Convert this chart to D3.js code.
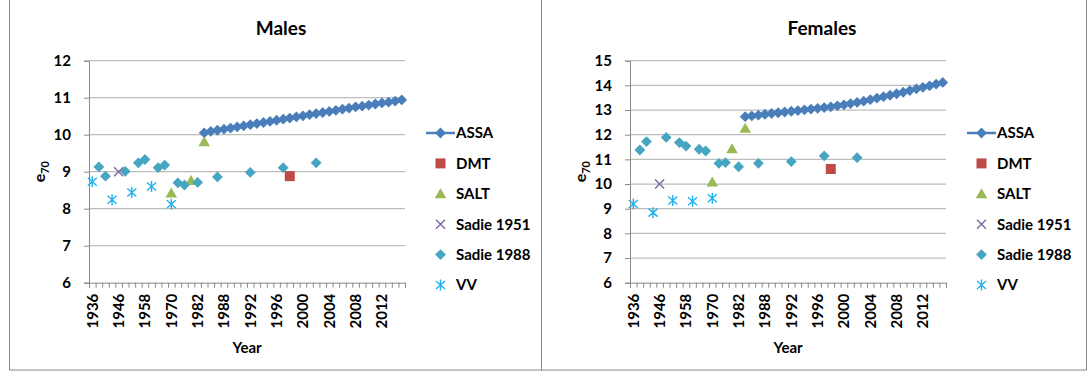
<!DOCTYPE html>
<html>
<head>
<meta charset="utf-8">
<script src="https://cdn.jsdelivr.net/npm/d3@7"></script>
<style>
  body { margin: 0; background: #fff; }
  svg { display: block; font-family: Lato, "Open Sans", "Liberation Sans", sans-serif; font-weight: bold; }
</style>
</head>
<body>
<svg id="chart" width="1091" height="374"></svg>
<script>
// Category axis: one slot per observation year
const categories = [1936, 1938, 1941, 1944, 1946, 1948, 1951, 1954, 1958, 1960,
  1963, 1966, 1970, 1973, 1976, 1979, 1982, 1985, 1986, 1987,
  1988, 1989, 1990, 1991, 1992, 1993, 1994, 1995, 1996, 1997,
  1998, 1999, 2000, 2001, 2002, 2003, 2004, 2005, 2006, 2007,
  2008, 2009, 2010, 2011, 2012, 2013, 2014, 2015];
const tickLabels = [1936, 1946, 1958, 1970, 1982, 1988, 1992, 1996, 2000, 2004, 2008, 2012];
const assaYears = [1985, 1986, 1987, 1988, 1989, 1990, 1991, 1992, 1993, 1994,
  1995, 1996, 1997, 1998, 1999, 2000, 2001, 2002, 2003, 2004,
  2005, 2006, 2007, 2008, 2009, 2010, 2011, 2012, 2013, 2014, 2015];
const seriesNames = ["ASSA", "DMT", "SALT", "Sadie 1951", "Sadie 1988", "VV"];

// Males: life expectancy at age 70
const maleASSA = [10.05, 10.09, 10.12, 10.15, 10.18, 10.21, 10.24, 10.27, 10.30, 10.33,
  10.36, 10.39, 10.42, 10.45, 10.48, 10.51, 10.54, 10.57, 10.60, 10.63,
  10.66, 10.69, 10.72, 10.75, 10.77, 10.80, 10.83, 10.86, 10.88, 10.91, 10.94];
const maleDMT = [[1998, 8.88]];
const maleSALT = [[1970, 8.42], [1979, 8.76], [1985, 9.81]];
const maleSadie1951 = [[1946, 9.00]];
const maleSadie1988 = [[1938, 9.13], [1941, 8.88], [1948, 9.01], [1954, 9.24], [1958, 9.33],
  [1963, 9.11], [1966, 9.18], [1973, 8.70], [1976, 8.64], [1982, 8.71],
  [1987, 8.86], [1992, 8.98], [1997, 9.11], [2002, 9.24]];
const maleVV = [[1936, 8.73], [1944, 8.24], [1951, 8.44], [1960, 8.60], [1970, 8.12]];

// Females: life expectancy at age 70
const femaleASSA = [12.73, 12.76, 12.79, 12.83, 12.86, 12.89, 12.92, 12.95, 12.98, 13.01,
  13.04, 13.07, 13.10, 13.13, 13.17, 13.21, 13.26, 13.31, 13.36, 13.42,
  13.48, 13.54, 13.60, 13.66, 13.72, 13.79, 13.86, 13.92, 13.98, 14.05, 14.12];
const femaleDMT = [[1998, 10.61]];
const femaleSALT = [[1970, 10.08], [1979, 11.43], [1985, 12.26]];
const femaleSadie1951 = [[1946, 10.00]];
const femaleSadie1988 = [[1938, 11.38], [1941, 11.72], [1948, 11.89], [1954, 11.68], [1958, 11.54],
  [1963, 11.41], [1966, 11.34], [1973, 10.84], [1976, 10.87], [1982, 10.70],
  [1987, 10.84], [1992, 10.91], [1997, 11.14], [2002, 11.07]];
const femaleVV = [[1936, 9.19], [1944, 8.84], [1951, 9.33], [1960, 9.30], [1970, 9.42]];

const maleTicks = [6, 7, 8, 9, 10, 11, 12];
const femaleTicks = [6, 7, 8, 9, 10, 11, 12, 13, 14, 15];

// Marker styles per series
const styles = {
  "ASSA":       { shape: "diamond",  fill: "#4A7EBB", stroke: "none" },
  "DMT":        { shape: "square",   fill: "#BE4B48", stroke: "none" },
  "SALT":       { shape: "triangle", fill: "#98B954", stroke: "none" },
  "Sadie 1951": { shape: "times",    fill: "none",    stroke: "#7E649E" },
  "Sadie 1988": { shape: "diamond",  fill: "#46A5C0", stroke: "none" },
  "VV":         { shape: "asterisk", fill: "none",    stroke: "#1FB2EE" }
};

function markerPath(shape) {
  switch (shape) {
    case "diamond":  return "M0,-5.4L5.4,0L0,5.4L-5.4,0Z";
    case "square":   return "M-5,-5H5V5H-5Z";
    case "triangle": return "M0,-5.6L5.8,4.4H-5.8Z";
    case "times":    return "M-4.5,-4.5L4.5,4.5M-4.5,4.5L4.5,-4.5";
    case "asterisk": return "M0,-5.5V5.5M-4.5,-4L4.5,4M-4.5,4L4.5,-4";
  }
}

const svg = d3.select("#chart");

function drawPanel(cfg) {
  const g = svg.append("g");

  // panel frame
  g.append("rect")
    .attr("x", cfg.frameX + 0.5).attr("y", -2)
    .attr("width", cfg.frameW).attr("height", 372)
    .attr("fill", "none").attr("stroke", "#8a8a8a").attr("stroke-width", 1);

  const x = d3.scaleBand().domain(categories).range([cfg.left, cfg.right]).paddingInner(0).paddingOuter(0);
  const xEdge = d3.scaleLinear().domain([0, categories.length]).range([cfg.left, cfg.right]);
  const y = d3.scaleLinear().domain(cfg.yDomain).range([cfg.bottom, cfg.top]);
  const cx = yr => x(yr) + x.bandwidth() / 2;

  // gridlines
  g.append("g").selectAll("line").data(cfg.yTicks.slice(1)).join("line")
    .attr("x1", cfg.left).attr("x2", cfg.right)
    .attr("y1", d => y(d)).attr("y2", d => y(d))
    .attr("stroke", "#bdbdbd").attr("stroke-width", 1.3);

  // y axis
  const yAxis = g.append("g").attr("transform", `translate(${cfg.left},0)`)
    .call(d3.axisLeft(y).tickValues(cfg.yTicks).tickSize(5).tickPadding(13).tickFormat(d3.format("d")));
  yAxis.select(".domain").attr("stroke", "#8a8a8a");
  yAxis.selectAll(".tick line").attr("stroke", "#8a8a8a");
  yAxis.selectAll("text").attr("font-size", 15).attr("fill", "#000")
    .attr("font-family", "Lato, 'Open Sans', sans-serif").attr("font-weight", "bold");

  // x axis: boundary ticks
  const xTickAxis = g.append("g").attr("transform", `translate(0,${cfg.bottom})`)
    .call(d3.axisBottom(xEdge).tickValues(d3.range(categories.length + 1)).tickSize(5).tickFormat(""));
  xTickAxis.select(".domain").attr("stroke", "#8a8a8a");
  xTickAxis.selectAll(".tick line").attr("stroke", "#8a8a8a");

  // x axis: rotated year labels at category centres
  const xLab = g.append("g").attr("transform", `translate(0,${cfg.bottom})`)
    .call(d3.axisBottom(x).tickValues(tickLabels).tickSize(0).tickFormat(d3.format("d")));
  xLab.select(".domain").remove();
  xLab.selectAll("text")
    .attr("font-size", 15).attr("fill", "#000")
    .attr("font-family", "Lato, 'Open Sans', sans-serif").attr("font-weight", "bold")
    .attr("text-anchor", "end")
    .attr("transform", "rotate(-90)")
    .attr("x", -11).attr("y", 0).attr("dy", "0.36em");

  // titles
  g.append("text").attr("x", cfg.titleX).attr("y", 35).attr("text-anchor", "middle")
    .attr("font-size", 19).text(cfg.title);
  g.append("text").attr("x", (cfg.left + cfg.right) / 2).attr("y", 353).attr("text-anchor", "middle")
    .attr("font-size", 15).text("Year");
  const yt = g.append("text")
    .attr("transform", `translate(${cfg.left - 44},${(cfg.top + cfg.bottom) / 2}) rotate(-90)`)
    .attr("text-anchor", "middle").attr("font-size", 16);
  yt.append("tspan").text("e");
  yt.append("tspan").attr("font-size", 11).attr("dy", 4).text("70");

  // ASSA line + markers
  const assa = assaYears.map((yr, i) => [yr, cfg.assa[i]]);
  g.append("path").datum(assa)
    .attr("fill", "none").attr("stroke", styles["ASSA"].fill).attr("stroke-width", 2.5)
    .attr("d", d3.line().x(d => cx(d[0])).y(d => y(d[1])));

  const drawMarkers = (name, data) => {
    const s = styles[name];
    g.append("g").selectAll("path").data(data).join("path")
      .attr("transform", d => `translate(${cx(d[0])},${y(d[1])})`)
      .attr("d", markerPath(s.shape))
      .attr("fill", s.fill).attr("stroke", s.stroke).attr("stroke-width", 1.4);
  };
  drawMarkers("ASSA", assa);
  drawMarkers("DMT", cfg.dmt);
  drawMarkers("SALT", cfg.salt);
  drawMarkers("Sadie 1951", cfg.sadie1951);
  drawMarkers("Sadie 1988", cfg.sadie1988);
  drawMarkers("VV", cfg.vv);

  // legend
  const lg = g.append("g").attr("transform", `translate(${cfg.right + 21},133)`);
  const rows = lg.selectAll("g").data(seriesNames).join("g")
    .attr("transform", (d, i) => `translate(0,${i * 30.4})`);
  rows.filter(d => d === "ASSA").append("line")
    .attr("x1", 0).attr("x2", 29).attr("y1", 0).attr("y2", 0)
    .attr("stroke", styles["ASSA"].fill).attr("stroke-width", 2.5);
  rows.append("path")
    .attr("transform", "translate(14.5,0)")
    .attr("d", d => markerPath(styles[d].shape))
    .attr("fill", d => styles[d].fill).attr("stroke", d => styles[d].stroke).attr("stroke-width", 1.4);
  rows.append("text").attr("x", 30).attr("y", 0).attr("dy", "0.36em")
    .attr("font-size", 15).text(d => d);
}

drawPanel({
  title: "Males", titleX: 281, frameX: 9, frameW: 532,
  left: 89, right: 405, top: 60.7, bottom: 282.7,
  yDomain: [6, 12], yTicks: maleTicks,
  assa: maleASSA, dmt: maleDMT, salt: maleSALT,
  sadie1951: maleSadie1951, sadie1988: maleSadie1988, vv: maleVV
});
drawPanel({
  title: "Females", titleX: 822, frameX: 541, frameW: 545,
  left: 630, right: 946, top: 60.7, bottom: 282.7,
  yDomain: [6, 15], yTicks: femaleTicks,
  assa: femaleASSA, dmt: femaleDMT, salt: femaleSALT,
  sadie1951: femaleSadie1951, sadie1988: femaleSadie1988, vv: femaleVV
});
</script>
</body>
</html>
